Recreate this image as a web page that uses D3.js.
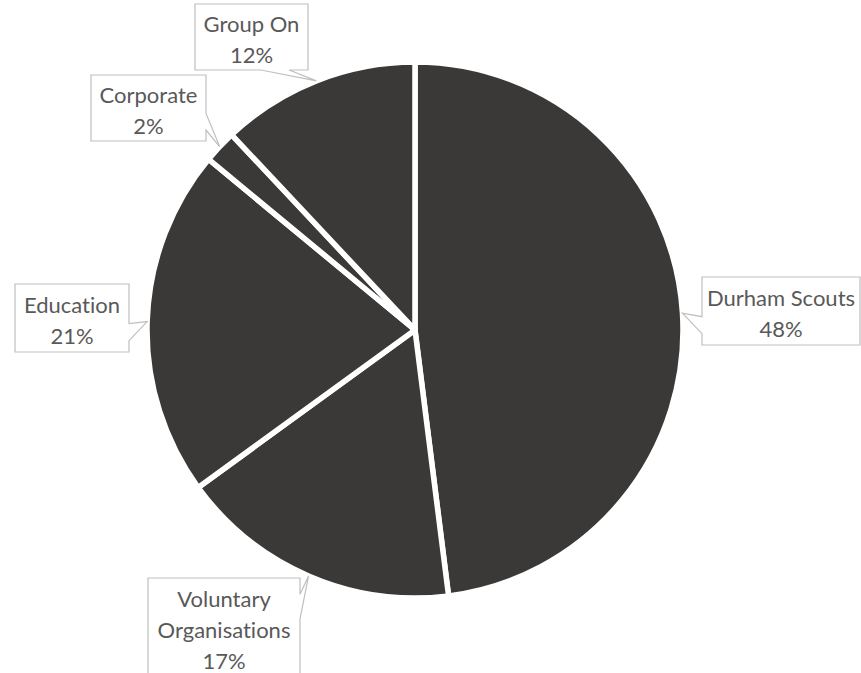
<!DOCTYPE html>
<html>
<head>
<meta charset="utf-8">
<script src="https://cdn.jsdelivr.net/npm/d3@7"></script>
<style>
  html, body { margin: 0; padding: 0; background: #ffffff; }
  svg { display: block; }
  text { font-variant-ligatures: none; font-feature-settings: "liga" 0; }
</style>
</head>
<body>
<svg id="chart" width="861" height="673"></svg>
<script>
// ---- data ----
const categories = ["Durham Scouts", "Voluntary Organisations", "Education", "Corporate", "Group On"];
const values = [48, 17, 21, 2, 12];
const labelLines = [["Durham Scouts", "48%"], ["Voluntary", "Organisations", "17%"], ["Education", "21%"], ["Corporate", "2%"], ["Group On", "12%"]];

// ---- layout (label box centres / sizes) ----
const boxes = [
  { cx: 781, cy: 311, w: 158, h: 68 },
  { cx: 224, cy: 627, w: 152, h: 98 },
  { cx: 72,  cy: 318, w: 114, h: 68 },
  { cx: 148.5, cy: 108, w: 115, h: 66 },
  { cx: 251.5, cy: 37, w: 113, h: 66 }
];

const svg = d3.select("#chart");
const cx = 415, cy = 330, R = 268;
const fill = "#3b3937";

const pie = d3.pie().sort(null).value(d => d)(values);
const arc = d3.arc().innerRadius(0).outerRadius(R);
const edge = d3.arc().innerRadius(R).outerRadius(R);

const g = svg.append("g").attr("transform", `translate(${cx},${cy})`);
g.selectAll("path.slice").data(pie).join("path")
  .attr("class", "slice")
  .attr("d", arc)
  .attr("fill", fill)
  .attr("stroke", "#ffffff")
  .attr("stroke-width", 5.5)
  .attr("stroke-linejoin", "round");

// Excel-like wedgeRectCallout path
function callout(b, tx, ty) {
  const x0 = b.cx - b.w / 2, y0 = b.cy - b.h / 2, w = b.w, h = b.h;
  const dxPos = tx - b.cx, dyPos = ty - b.cy;
  const dx = dxPos * h / w, dy = dyPos;
  const xb1 = x0 + w * (dx > 0 ? 7 : 2) / 12, xb2 = x0 + w * (dx > 0 ? 10 : 5) / 12;
  const yb1 = y0 + h * (dy > 0 ? 7 : 2) / 12, yb2 = y0 + h * (dy > 0 ? 10 : 5) / 12;
  let side;
  if (Math.abs(dx) > Math.abs(dy)) side = dx > 0 ? "right" : "left";
  else side = dy > 0 ? "bottom" : "top";
  const x1 = x0 + w, y1 = y0 + h;
  let p = `M${x0},${y0}`;
  if (side === "top") p += `L${xb1},${y0}L${tx},${ty}L${xb2},${y0}`;
  p += `L${x1},${y0}`;
  if (side === "right") p += `L${x1},${yb1}L${tx},${ty}L${x1},${yb2}`;
  p += `L${x1},${y1}`;
  if (side === "bottom") p += `L${xb2},${y1}L${tx},${ty}L${xb1},${y1}`;
  p += `L${x0},${y1}`;
  if (side === "left") p += `L${x0},${yb2}L${tx},${ty}L${x0},${yb1}`;
  p += "Z";
  return p;
}

const fontSize = 22, lineH = 31;
const labels = svg.append("g");
pie.forEach((d, i) => {
  const c = edge.centroid(d);
  const tx = cx + c[0], ty = cy + c[1];
  const b = boxes[i];
  labels.append("path")
    .attr("d", callout(b, tx, ty))
    .attr("fill", "#ffffff")
    .attr("stroke", "#bfbfbf")
    .attr("stroke-width", 1.2);
  const lines = labelLines[i];
  const n = lines.length;
  const t = labels.append("text")
    .attr("text-anchor", "middle")
    .attr("font-family", "Lato, 'Open Sans', sans-serif")
    .attr("font-size", fontSize)
    .attr("fill", "#595959");
  lines.forEach((s, j) => {
    t.append("tspan")
      .attr("x", b.cx)
      .attr("y", b.cy + (j - (n - 1) / 2) * lineH + 10.5)
      .text(s);
  });
});
</script>
</body>
</html>
